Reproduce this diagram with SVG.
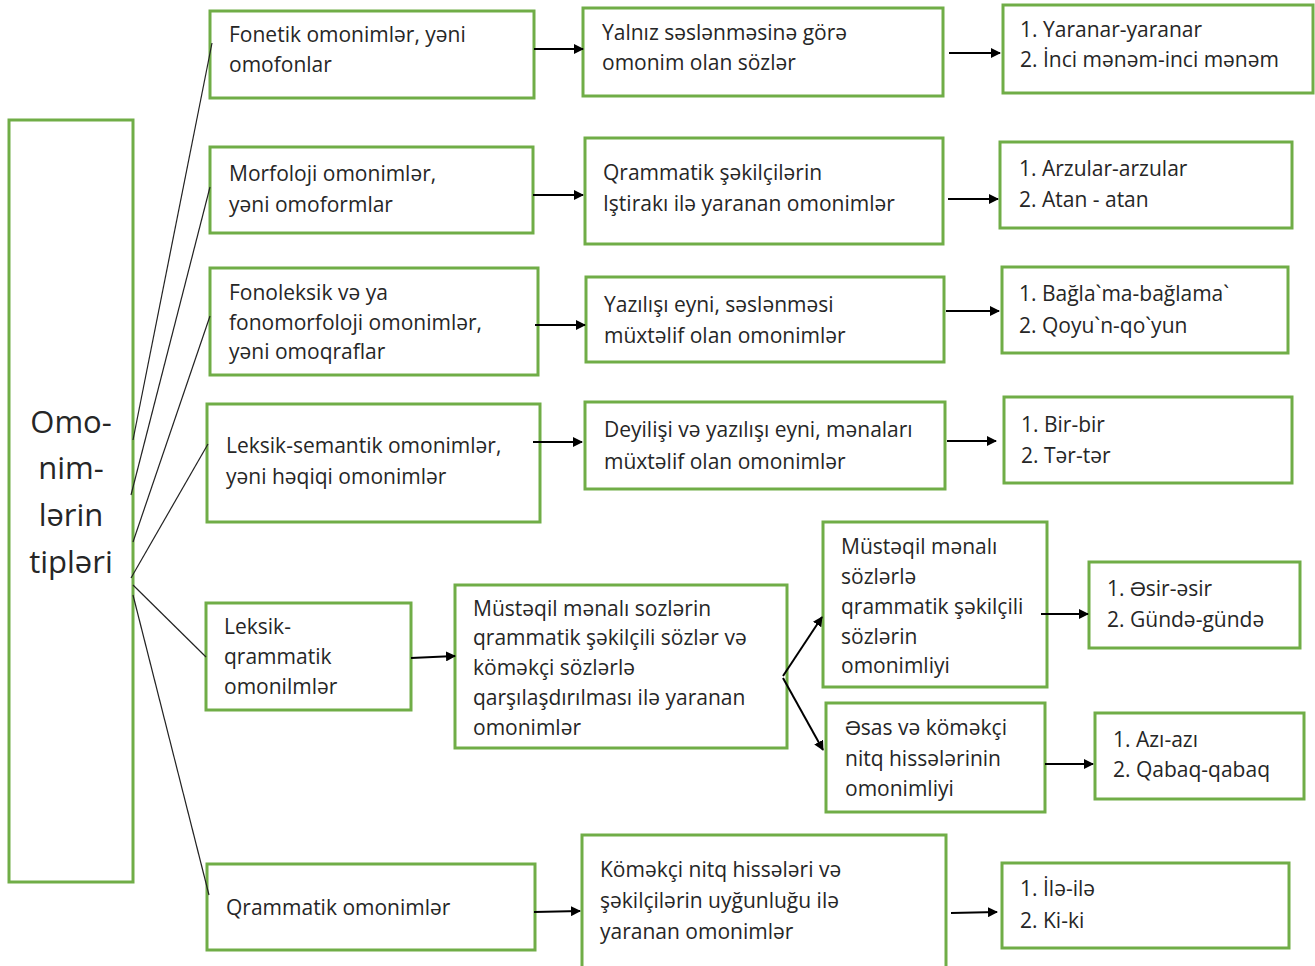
<svg xmlns="http://www.w3.org/2000/svg" width="1315" height="966" viewBox="0 0 1315 966">
<style>
.box{fill:#fff;stroke:#70AD47;stroke-width:3}
.t{font-family:"Open Sans","Liberation Sans",Arial,sans-serif;font-size:21px;fill:#262626}
.big{font-family:"Open Sans","Liberation Sans",Arial,sans-serif;font-size:31px;fill:#262626;text-anchor:middle}
.fan{stroke:#222;stroke-width:1.2;fill:none}
.arr{stroke:#000;stroke-width:2;fill:none;marker-end:url(#ah)}
</style>
<defs>
<marker id="ah" markerWidth="10" markerHeight="10" refX="9" refY="5" orient="auto" markerUnits="userSpaceOnUse">
<path d="M0,0 L10,5 L0,10 z" fill="#000"/>
</marker>
</defs>
<rect width="1315" height="966" fill="#fff"/>

<g id="main"><rect class="box" x="9" y="120" width="124" height="762"/>
<text class="big" x="71" y="433">Omo-</text><text class="big" x="71" y="479">nim-</text><text class="big" x="71" y="526">lərin</text><text class="big" x="71" y="573">tipləri</text></g>

<g id="n1"><rect class="box" x="210" y="11" width="324" height="87"/>
<text class="t" x="229" y="42">Fonetik omonimlər, yəni</text><text class="t" x="229" y="72">omofonlar</text></g>
<g id="n1b"><rect class="box" x="583" y="8" width="360" height="88"/>
<text class="t" x="602" y="40">Yalnız səslənməsinə görə</text><text class="t" x="602" y="70">omonim olan sözlər</text></g>
<g id="n1c"><rect class="box" x="1003" y="5" width="310" height="88"/>
<text class="t" x="1020" y="37">1. Yaranar-yaranar</text><text class="t" x="1020" y="67">2. İnci mənəm-inci mənəm</text></g>

<g id="n2"><rect class="box" x="210" y="147" width="323" height="86"/>
<text class="t" x="229" y="181">Morfoloji omonimlər,</text><text class="t" x="229" y="212">yəni omoformlar</text></g>
<g id="n2b"><rect class="box" x="585" y="138" width="358" height="106"/>
<text class="t" x="603" y="180">Qrammatik şəkilçilərin</text><text class="t" x="603" y="211">Iştirakı ilə yaranan omonimlər</text></g>
<g id="n2c"><rect class="box" x="1000" y="142" width="292" height="86"/>
<text class="t" x="1019" y="176">1. Arzular-arzular</text><text class="t" x="1019" y="207">2. Atan - atan</text></g>

<g id="n3"><rect class="box" x="210" y="268" width="328" height="107"/>
<text class="t" x="229" y="300">Fonoleksik və ya</text><text class="t" x="229" y="330">fonomorfoloji omonimlər,</text><text class="t" x="229" y="359">yəni omoqraflar</text></g>
<g id="n3b"><rect class="box" x="586" y="277" width="358" height="85"/>
<text class="t" x="604" y="312">Yazılışı eyni, səslənməsi</text><text class="t" x="604" y="343">müxtəlif olan omonimlər</text></g>
<g id="n3c"><rect class="box" x="1002" y="267" width="286" height="86"/>
<text class="t" x="1019" y="301">1. Bağla`ma-bağlama`</text><text class="t" x="1019" y="333">2. Qoyu`n-qo`yun</text></g>

<g id="n4"><rect class="box" x="207" y="404" width="333" height="118"/>
<text class="t" x="226" y="453">Leksik-semantik omonimlər,</text><text class="t" x="226" y="484">yəni həqiqi omonimlər</text></g>
<g id="n4b"><rect class="box" x="585" y="402" width="360" height="87"/>
<text class="t" x="604" y="437">Deyilişi və yazılışı eyni, mənaları</text><text class="t" x="604" y="469">müxtəlif olan omonimlər</text></g>
<g id="n4c"><rect class="box" x="1004" y="397" width="288" height="86"/>
<text class="t" x="1021" y="432">1. Bir-bir</text><text class="t" x="1021" y="463">2. Tər-tər</text></g>

<g id="n5"><rect class="box" x="206" y="603" width="205" height="107"/>
<text class="t" x="224" y="634">Leksik-</text><text class="t" x="224" y="664">qrammatik</text><text class="t" x="224" y="694">omonilmlər</text></g>
<g id="n5b"><rect class="box" x="455" y="585" width="332" height="163"/>
<text class="t" x="473" y="616">Müstəqil mənalı sozlərin</text><text class="t" x="473" y="645">qrammatik şəkilçili sözlər və</text><text class="t" x="473" y="675">köməkçi sözlərlə</text><text class="t" x="473" y="705">qarşılaşdırılması ilə yaranan</text><text class="t" x="473" y="735">omonimlər</text></g>
<g id="n5c"><rect class="box" x="823" y="522" width="224" height="165"/>
<text class="t" x="841" y="554">Müstəqil mənalı</text><text class="t" x="841" y="584">sözlərlə</text><text class="t" x="841" y="614">qrammatik şəkilçili</text><text class="t" x="841" y="644">sözlərin</text><text class="t" x="841" y="673">omonimliyi</text></g>
<g id="n5d"><rect class="box" x="1089" y="562" width="211" height="86"/>
<text class="t" x="1107" y="596">1. Əsir-əsir</text><text class="t" x="1107" y="627">2. Gündə-gündə</text></g>
<g id="n5e"><rect class="box" x="826" y="703" width="219" height="109"/>
<text class="t" x="845" y="735">Əsas və köməkçi</text><text class="t" x="845" y="766">nitq hissələrinin</text><text class="t" x="845" y="796">omonimliyi</text></g>
<g id="n5f"><rect class="box" x="1095" y="713" width="209" height="86"/>
<text class="t" x="1113" y="747">1. Azı-azı</text><text class="t" x="1113" y="777">2. Qabaq-qabaq</text></g>

<g id="n6"><rect class="box" x="207" y="864" width="328" height="86"/>
<text class="t" x="226" y="915">Qrammatik omonimlər</text></g>
<g id="n6b"><rect class="box" x="582" y="835" width="364" height="135"/>
<text class="t" x="600" y="877">Köməkçi nitq hissələri və</text><text class="t" x="600" y="908">şəkilçilərin uyğunluğu ilə</text><text class="t" x="600" y="939">yaranan omonimlər</text></g>
<g id="n6c"><rect class="box" x="1002" y="863" width="287" height="85"/>
<text class="t" x="1020" y="896">1. İlə-ilə</text><text class="t" x="1020" y="928">2. Ki-ki</text></g>

<g id="connectors">
<line class="fan" x1="133" y1="440" x2="212" y2="43"/>
<line class="fan" x1="131" y1="495" x2="210" y2="187"/>
<line class="fan" x1="133" y1="542" x2="210" y2="316"/>
<line class="fan" x1="131" y1="578" x2="208" y2="444"/>
<line class="fan" x1="133" y1="585" x2="206" y2="657"/>
<line class="fan" x1="133" y1="595" x2="209" y2="895"/>
<line class="arr" x1="534" y1="49" x2="583" y2="49"/>
<line class="arr" x1="949" y1="53" x2="1000" y2="53"/>
<line class="arr" x1="533" y1="195" x2="583" y2="195"/>
<line class="arr" x1="948" y1="199" x2="998" y2="199"/>
<line class="arr" x1="535" y1="325" x2="585" y2="325"/>
<line class="arr" x1="946" y1="311" x2="999" y2="311"/>
<line class="arr" x1="533" y1="442" x2="582" y2="442"/>
<line class="arr" x1="947" y1="441" x2="996" y2="441"/>
<line class="arr" x1="411" y1="658" x2="455" y2="656"/>
<line class="arr" x1="783" y1="676" x2="822" y2="617"/>
<line class="arr" x1="783" y1="678" x2="823" y2="750"/>
<line class="arr" x1="1041" y1="614" x2="1088" y2="614"/>
<line class="arr" x1="1045" y1="764" x2="1093" y2="764"/>
<line class="arr" x1="534" y1="912" x2="580" y2="911"/>
<line class="arr" x1="951" y1="913" x2="997" y2="912"/>
</g>
</svg>
